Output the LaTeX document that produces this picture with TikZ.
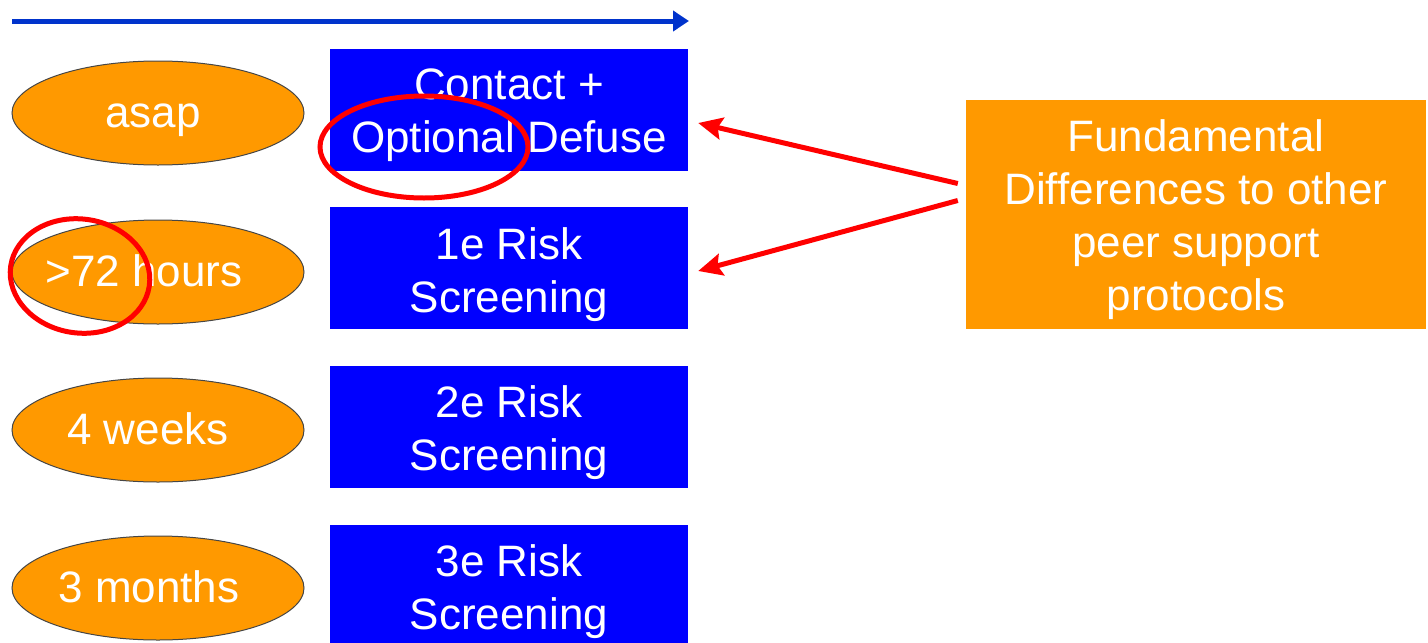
\documentclass[tikz,border=0pt]{standalone}
\usepackage{fontspec}
\setmainfont{Liberation Sans}
\usetikzlibrary{shapes.geometric,arrows.meta,calc}
\definecolor{orangeC}{HTML}{FF9900}
\definecolor{blueC}{HTML}{0000FF}
\definecolor{lineblue}{HTML}{0033CC}
\definecolor{redC}{HTML}{FF0000}
\begin{document}
\begin{tikzpicture}[x=1pt,y=-1pt,
  txt/.style={text=white,font=\fontsize{44}{53}\selectfont,align=center,inner sep=0pt},
  timeell/.style={ellipse,fill=orangeC,draw=gray!55!black,line width=1pt,minimum width=292pt,minimum height=104pt,inner sep=0pt},
  stagebox/.style={rectangle,fill=blueC,minimum width=358pt,minimum height=122pt,inner sep=0pt},
  notebox/.style={rectangle,fill=orangeC,minimum width=460pt,minimum height=229pt,inner sep=0pt},
  hilite/.style={ellipse,draw=redC,line width=5pt,inner sep=0pt},
  redarrow/.style={draw=redC,line width=5pt,-{Stealth[length=24pt,width=22pt,inset=4pt]}},
  timearrow/.style={draw=lineblue,line width=5pt,-{Triangle[length=16pt,width=20pt]}}]
\useasboundingbox (0,0) rectangle (1428,643);
% timeline arrow
\coordinate (ta) at (12,21);
\coordinate (tb) at (689,21);
\draw[timearrow] (ta) -- (tb);
% time ellipses
\node[timeell] (e1) at (158,113) {};
\node[timeell] (e2) at (158,272) {};
\node[timeell] (e3) at (158,430) {};
\node[timeell] (e4) at (158,588) {};
\node[txt] (t1) at ($(e1)+(-5,7)$) {asap};
\node[txt] (t2) at ($(e2)+(-14,-1)$) {>72 hours};
\node[txt] (t3) at ($(e3)+(-10,-1)$) {4 weeks};
\node[txt] (t4) at ($(e4)+(-9,-1)$) {3 months};
% stage boxes
\node[stagebox,label={[txt,yshift=-5pt]center:{Contact +\\Optional Defuse}}] (b1) at (509,110) {};
\node[stagebox,label={[txt,yshift=-7pt]center:{1e Risk\\Screening}}] (b2) at (509,268) {};
\node[stagebox,label={[txt,yshift=-6pt]center:{2e Risk\\Screening}}] (b3) at (509,427) {};
\node[stagebox,label={[txt,yshift=-6pt]center:{3e Risk\\Screening}}] (b4) at (509,586) {};
% note box
\node[notebox,label={[txt,yshift=-5pt]center:{Fundamental\\Differences to other\\peer support\\protocols}}] (fd) at (1196,214.5) {};
% red arrows
\draw[redarrow] ($(fd.west)+(-8,-31)$) -- ($(b1.east)+(10,13)$);
\draw[redarrow] ($(fd.west)+(-8,-14)$) -- ($(b2.east)+(10,3)$);
% red highlight ellipses
\node[hilite,minimum width=208pt,minimum height=102pt] (h1) at (424,147) {};
\node[hilite,minimum width=140pt,minimum height=114pt,rotate=-8] (h2) at (80,276) {};
\end{tikzpicture}
\end{document}
